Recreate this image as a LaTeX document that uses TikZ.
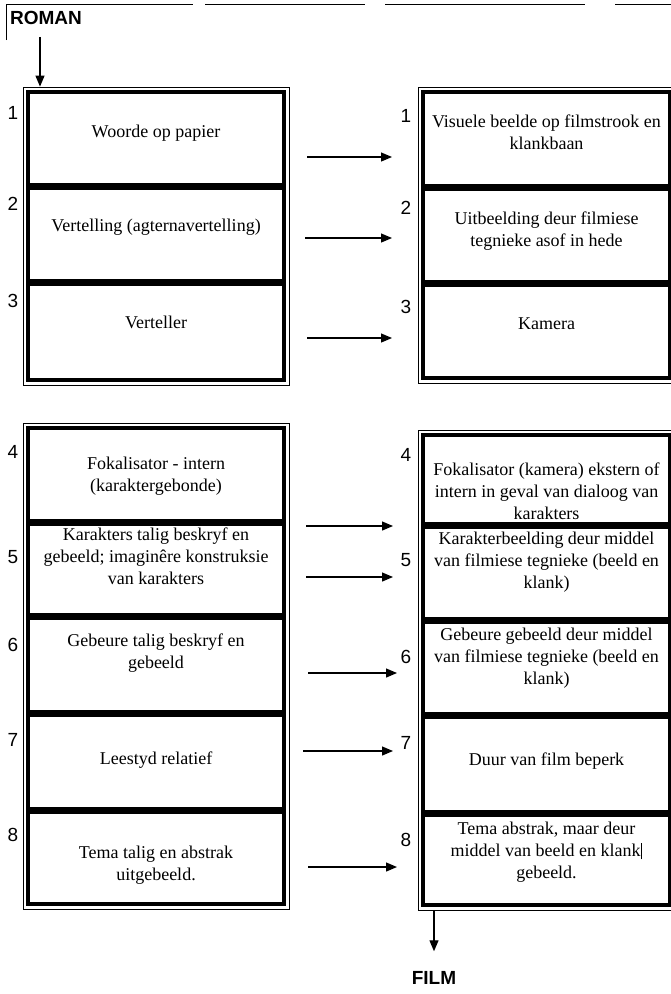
\documentclass[tikz,border=0pt]{standalone}
\usepackage{fontspec}
\setmainfont{Liberation Serif}
\newfontfamily\arialfont{Liberation Sans}
\usetikzlibrary{arrows.meta,positioning,fit,calc}
\tikzset{
  cell/.style={draw,line width=4.5pt,inner sep=0pt,outer sep=0pt},
  lcell/.style={cell,minimum width=256pt},
  rcell/.style={cell,minimum width=247pt},
  divider/.style={line width=7pt},
  txt/.style={align=center,inner sep=0pt,font=\fontsize{18}{22}\selectfont},
  num/.style={inner sep=0pt,font=\arialfont\fontsize{19}{19}\selectfont},
  head/.style={inner sep=0pt,font=\arialfont\bfseries\fontsize{19}{19}\selectfont},
  frame/.style={draw,line width=0.8pt,inner sep=5pt},
  fl/.style={line width=1.2pt,-{Triangle[length=11pt,width=9pt]}},
}

\begin{document}
\begin{tikzpicture}[x=1pt,y=-1pt]
\useasboundingbox (0,0) rectangle (671,994);
% scanned frame edge
\draw[line width=0.6pt] (6,40) -- (6,4);
\draw[line width=0.6pt,dash pattern=on 187pt off 12pt on 160pt off 20pt on 200pt off 30pt on 80pt] (6,4) -- (671,4);

% roman column
\node[lcell,minimum height=94pt] (L1) at (156,139) {};
\node[lcell,minimum height=96pt,below=0pt of L1] (L2) {};
\node[lcell,minimum height=98pt,below=0pt of L2] (L3) {};
\node[lcell,minimum height=94pt] (L4) at (156,475) {};
\node[lcell,minimum height=94pt,below=0pt of L4] (L5) {};
\node[lcell,minimum height=97pt,below=0pt of L5] (L6) {};
\node[lcell,minimum height=97pt,below=0pt of L6] (L7) {};
\node[lcell,minimum height=94pt,below=0pt of L7] (L8) {};
% film column
\node[rcell,minimum height=95pt] (R1) at (546.5,139.5) {};
\node[rcell,minimum height=96pt,below=0pt of R1] (R2) {};
\node[rcell,minimum height=95pt,below=0pt of R2] (R3) {};
\node[rcell,minimum height=90pt] (R4) at (546.5,480) {};
\node[rcell,minimum height=95pt,below=0pt of R4] (R5) {};
\node[rcell,minimum height=95pt,below=0pt of R5] (R6) {};
\node[rcell,minimum height=98pt,below=0pt of R6] (R7) {};
\node[rcell,minimum height=92pt,below=0pt of R7] (R8) {};

% heavy rules between rows
\foreach \c in {L1,L2,L4,L5,L6,L7,R1,R2,R4,R5,R6,R7}
  \draw[divider] (\c.south west) -- (\c.south east);

\node[frame,fit=(L1)(L3)] (gL1) {};
\node[frame,fit=(L4)(L8)] (gL2) {};
\node[frame,fit=(R1)(R3)] (gR1) {};
\node[frame,fit=(R4)(R8)] (gR2) {};

% texts
\node[txt] (tL1) at ([shift={(0,-6)}]L1.center) {Woorde op papier};
\node[txt] (tL2) at ([shift={(0,-7)}]L2.center) {Vertelling (agternavertelling)};
\node[txt] (tL3) at ([shift={(0,-9)}]L3.center) {Verteller};
\node[txt] (tL4) at ([shift={(0,1)}]L4.center) {Fokalisator - intern\\(karaktergebonde)};
\node[txt] (tL5) at ([shift={(0,-13)}]L5.center) {Karakters talig beskryf en\\gebeeld; imaginêre konstruksie\\van karakters};
\node[txt] (tL6) at ([shift={(0,-11.5)}]L6.center) {Gebeure talig beskryf en\\gebeeld};
\node[txt] (tL7) at ([shift={(0,-1.5)}]L7.center) {Leestyd relatief};
\node[txt] (tL8) at ([shift={(0,8)}]L8.center) {Tema talig en abstrak\\uitgebeeld.};
\node[txt] (tR1) at ([shift={(0,-7.5)}]R1.center) {Visuele beelde op filmstrook en\\klankbaan};
\node[txt] (tR2) at ([shift={(0,-4)}]R2.center) {Uitbeelding deur filmiese\\tegnieke asof in hede};
\node[txt] (tR3) at ([shift={(0,-6.5)}]R3.center) {Kamera};
\node[txt] (tR4) at ([shift={(0,11)}]R4.center) {Fokalisator (kamera) ekstern of\\intern in geval van dialoog van\\karakters};
\node[txt] (tR5) at ([shift={(0,-10.5)}]R5.center) {Karakterbeelding deur middel\\van filmiese tegnieke (beeld en\\klank)};
\node[txt] (tR6) at ([shift={(0,-9.5)}]R6.center) {Gebeure gebeeld deur middel\\van filmiese tegnieke (beeld en\\klank)};
\node[txt] (tR7) at ([shift={(0,-3)}]R7.center) {Duur van film beperk};
\node[txt] (tR8) at ([shift={(0,-7)}]R8.center) {Tema abstrak, maar deur\\middel van beeld en klank\rule[-3pt]{1.8pt}{16pt}\\gebeeld.};

% row numbers
\foreach \i/\ly/\ry in {1/113/116, 2/204/208, 3/301/307, 4/452/455, 5/557/560, 6/645/657, 7/740/743, 8/835/840} {
  \node[num] (nL\i) at (13,\ly) {\i};
  \node[num] (nR\i) at (406,\ry) {\i};
}

% arrows roman -> film
\foreach \i/\dx/\dy/\sh in {1/23/18/31, 2/21/4/31, 3/23/7/31, 4/22/51/30, 5/22/8/30, 6/24/8.5/26, 7/19/-10.5/30, 8/24/10/26} {
  \coordinate (a\i) at ([shift={(\dx,\dy)}]L\i.east);
  \draw[fl,shorten >=\sh pt] (a\i) -- (a\i -| R\i.west);
}

\node[head] (roman) at (46,18) {ROMAN};
\coordinate (ra) at ([shift={(-6,12)}]roman.south);
\draw[fl] (ra) -- (ra |- gL1.north);

\node[head] (film) at (434,978) {FILM};
\coordinate (fa) at (gR2.south -| film.north);
\draw[fl] (fa) -- ([shift={(0,-20)}]film.north);
\end{tikzpicture}
\end{document}
